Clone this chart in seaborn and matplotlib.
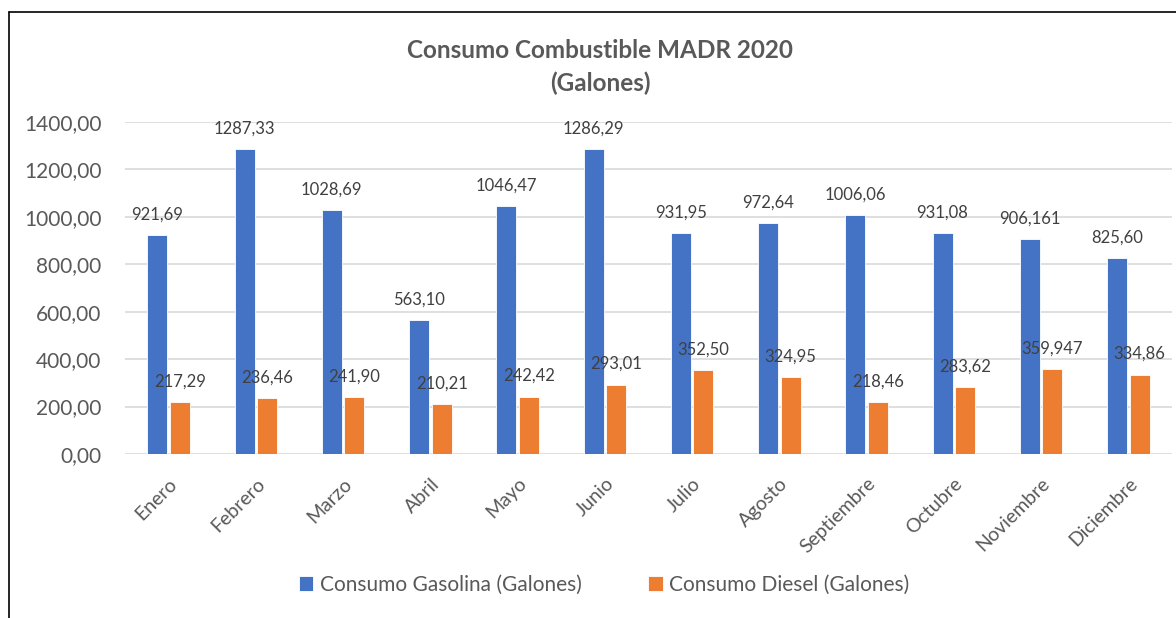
import matplotlib
matplotlib.use("Agg")
import matplotlib.pyplot as plt
import pandas as pd
import seaborn as sns
from matplotlib.lines import Line2D

# data
meses = ["Enero", "Febrero", "Marzo", "Abril", "Mayo", "Junio", "Julio",
         "Agosto", "Septiembre", "Octubre", "Noviembre", "Diciembre"]
gasolina = [921.69, 1287.33, 1028.69, 563.10, 1046.47, 1286.29, 931.95,
            972.64, 1006.06, 931.08, 906.161, 825.60]
diesel = [217.29, 236.46, 241.90, 210.21, 242.42, 293.01, 352.50,
          324.95, 218.46, 283.62, 359.947, 334.86]
series = ["Consumo Gasolina (Galones)", "Consumo Diesel (Galones)"]
colores = ["#4472C4", "#ED7D31"]
y_ticks = [0, 200, 400, 600, 800, 1000, 1200, 1400]

df = pd.DataFrame({
    "mes": meses * 2,
    "galones": gasolina + diesel,
    "serie": [series[0]] * len(meses) + [series[1]] * len(meses),
})


def fmt(v):
    s = f"{v:.2f}" if round(v, 2) == v else f"{v:.3f}"
    return s.replace(".", ",")


sns.set_theme(style="white")
plt.rcParams["font.family"] = ["Lato", "DejaVu Sans"]

fig = plt.figure(figsize=(11.76, 6.18), dpi=100)
ax = fig.add_axes([125 / 1176, 1 - 454 / 618, (1172 - 125) / 1176, (454 - 122) / 618])

sns.barplot(data=df, x="mes", y="galones", hue="serie", palette=colores,
            saturation=1, width=0.52, gap=0.12, ax=ax, edgecolor="white",
            linewidth=0.6, legend=True)

for cont, vals in zip(ax.containers, [gasolina, diesel]):
    ax.bar_label(cont, labels=[fmt(v) for v in vals], padding=9,
                 fontsize=12, color="#404040")

ax.set_ylim(0, 1400)
ax.set_yticks(y_ticks)
ax.set_yticklabels([f"{t},00" for t in y_ticks])
ax.yaxis.grid(True, color="#d9d9d9", linewidth=1.2)
ax.set_axisbelow(True)
for s in ax.spines.values():
    s.set_visible(False)
ax.set_xlabel("")
ax.set_ylabel("")
ax.tick_params(axis="y", length=0, pad=17, labelsize=15, labelcolor="#595959")
ax.tick_params(axis="x", length=0, pad=15, labelsize=14, labelcolor="#595959")
plt.setp(ax.get_xticklabels(), rotation=45, ha="right", rotation_mode="anchor")

ax.legend(loc="center", bbox_to_anchor=(604 / 1176, 1 - 585 / 618), bbox_transform=fig.transFigure,
          ncol=2, frameon=False, fontsize=15, labelcolor="#595959",
          handlelength=0.7, handleheight=0.7, handletextpad=0.3, columnspacing=3.2)

fig.text(600 / 1176, 1 - 50 / 618, "Consumo Combustible MADR 2020", ha="center", va="center",
         fontsize=17.5, fontweight="bold", color="#595959")
fig.text(600 / 1176, 1 - 83 / 618, "(Galones)", ha="center", va="center",
         fontsize=17.5, fontweight="bold", color="#595959")

# chart frame (left and top edges only visible)
fig.add_artist(Line2D([9 / 1176, 9 / 1176], [0, 1 - 12 / 618], color="black", linewidth=1.2))
fig.add_artist(Line2D([9 / 1176, 1], [1 - 12 / 618, 1 - 12 / 618], color="black", linewidth=1.2))

fig.savefig("out.png", dpi=100)
